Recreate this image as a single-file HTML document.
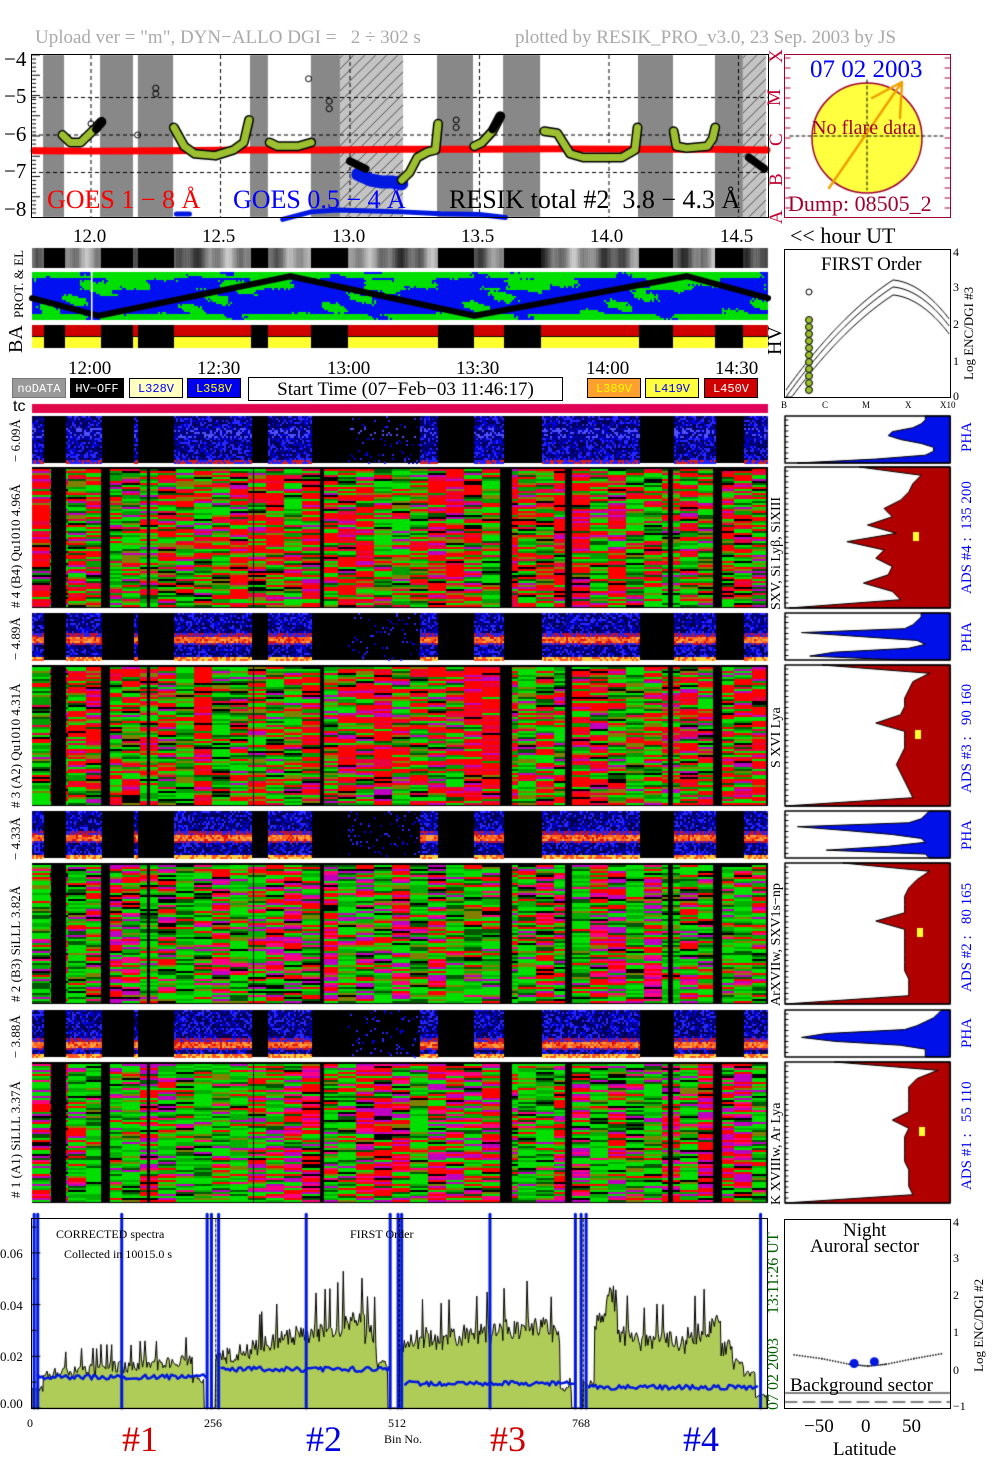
<!DOCTYPE html>
<html><head><meta charset="utf-8">
<style>
html,body{margin:0;padding:0;background:#fff}
#root{position:relative;width:1004px;height:1477px;overflow:hidden;font-family:"Liberation Serif",serif}
canvas{position:absolute;left:0;top:0}
.t{position:absolute;white-space:nowrap;line-height:1}
.rot{position:absolute;white-space:nowrap;line-height:1;transform:rotate(-90deg);transform-origin:0 0}
.box{position:absolute;box-sizing:border-box}
.lg{position:absolute;height:20px;top:378px;font-family:"Liberation Mono",monospace;font-size:12px;line-height:20px;text-align:center;box-sizing:border-box;border:1px solid #000}
</style></head><body>
<div id="root">
<canvas id="cv" width="1004" height="1477"></canvas>

<div class="t" style="left:35px;top:28px;font-size:19px;color:#aaa">Upload ver = "m", DYN−ALLO DGI =&nbsp;&nbsp; 2 ÷ 302 s</div>
<div class="t" style="left:515px;top:28px;font-size:19px;color:#aaa">plotted by RESIK_PRO_v3.0, 23 Sep. 2003 by JS</div>

<div class="box" style="left:31px;top:54px;width:738px;height:164px;border:1.5px solid #000"></div>
<div class="t" style="left:4px;top:49px;font-size:21px">−4</div>
<div class="t" style="left:4px;top:86px;font-size:21px">−5</div>
<div class="t" style="left:4px;top:124px;font-size:21px">−6</div>
<div class="t" style="left:4px;top:161px;font-size:21px">−7</div>
<div class="t" style="left:4px;top:199px;font-size:21px">−8</div>
<div class="t" style="left:47px;top:187px;font-size:26px;color:#f00">GOES 1 − 8 Å</div>
<div class="t" style="left:233px;top:187px;font-size:26px;color:#00f">GOES 0.5 − 4 Å</div>
<div class="t" style="left:449px;top:187px;font-size:26px;color:#000">RESIK total #2&nbsp; 3.8 − 4.3 Å</div>
<div class="rot" style="left:767px;top:63px;font-size:19px;color:#c00030">X</div>
<div class="rot" style="left:765px;top:106px;font-size:19px;color:#c00030">M</div>
<div class="rot" style="left:767px;top:146px;font-size:19px;color:#c00030">C</div>
<div class="rot" style="left:767px;top:186px;font-size:19px;color:#c00030">B</div>
<div class="rot" style="left:767px;top:224px;font-size:19px;color:#c00030">A</div>

<div class="box" style="left:784px;top:54px;width:167px;height:164px;border:1.5px solid #a00030"></div>
<div class="t" style="left:810px;top:57px;font-size:25px;color:#00f">07 02 2003</div>
<div class="t" style="left:812px;top:118px;font-size:20px;color:#a00030">No flare data</div>
<div class="t" style="left:788px;top:193px;font-size:22px;color:#a00030">Dump: 08505_2</div>

<div class="t" style="left:73px;top:227px;font-size:19px">12.0</div>
<div class="t" style="left:202px;top:227px;font-size:19px">12.5</div>
<div class="t" style="left:332px;top:227px;font-size:19px">13.0</div>
<div class="t" style="left:461px;top:227px;font-size:19px">13.5</div>
<div class="t" style="left:590px;top:227px;font-size:19px">14.0</div>
<div class="t" style="left:720px;top:227px;font-size:19px">14.5</div>
<div class="t" style="left:790px;top:225px;font-size:22px">&lt;&lt; hour UT</div>

<div class="rot" style="left:12px;top:318px;font-size:13px">PROT. &amp; EL</div>
<div class="rot" style="left:6px;top:353px;font-size:20px">BA</div>
<div class="rot" style="left:765px;top:355px;font-size:20px">HV</div>

<div class="box" style="left:784px;top:249px;width:167px;height:149px;border:1.5px solid #000"></div>
<div class="t" style="left:821px;top:255px;font-size:19px">FIRST Order</div>
<div class="t" style="left:953px;top:246px;font-size:12px">4</div>
<div class="t" style="left:953px;top:281px;font-size:12px">3</div>
<div class="t" style="left:953px;top:318px;font-size:12px">2</div>
<div class="t" style="left:953px;top:355px;font-size:12px">1</div>
<div class="t" style="left:953px;top:390px;font-size:12px">0</div>
<div class="rot" style="left:962px;top:380px;font-size:13px">Log ENC/DGI #3</div>
<div class="t" style="left:781px;top:401px;font-size:9px">B</div>
<div class="t" style="left:822px;top:401px;font-size:9px">C</div>
<div class="t" style="left:862px;top:401px;font-size:9px">M</div>
<div class="t" style="left:905px;top:401px;font-size:9px">X</div>
<div class="t" style="left:940px;top:401px;font-size:9px">X10</div>

<div class="t" style="left:68px;top:359px;font-size:19px">12:00</div>
<div class="t" style="left:197px;top:359px;font-size:19px">12:30</div>
<div class="t" style="left:327px;top:359px;font-size:19px">13:00</div>
<div class="t" style="left:456px;top:359px;font-size:19px">13:30</div>
<div class="t" style="left:586px;top:359px;font-size:19px">14:00</div>
<div class="t" style="left:715px;top:359px;font-size:19px">14:30</div>

<div class="lg" style="left:12px;width:54px;background:#999;color:#fff;border-color:#777">noDATA</div>
<div class="lg" style="left:70px;width:54px;background:#000;color:#fff">HV−OFF</div>
<div class="lg" style="left:129px;width:54px;background:#ffffc0;color:#00f">L328V</div>
<div class="lg" style="left:187px;width:54px;background:#0000f0;color:#ff0">L358V</div>
<div class="lg" style="left:248px;width:315px;height:24px;top:377px;background:#fff;font-family:'Liberation Serif',serif;font-size:19px;line-height:24px">Start Time (07−Feb−03 11:46:17)</div>
<div class="lg" style="left:587px;width:54px;background:#ffa030;color:#ff0">L389V</div>
<div class="lg" style="left:645px;width:54px;background:#ffff40;color:#00f">L419V</div>
<div class="lg" style="left:704px;width:54px;background:#d00000;color:#fff">L450V</div>
<div class="t" style="left:13px;top:399px;font-size:16px;font-family:'Liberation Sans',sans-serif">tc</div>

<div class="rot" style="left:9px;top:462px;font-size:13px">− 6.09Å</div>
<div class="rot" style="left:9px;top:608px;font-size:13px"># 4 (B4) Qu1010 4.96Å</div>
<div class="rot" style="left:9px;top:660px;font-size:13px">− 4.89Å</div>
<div class="rot" style="left:9px;top:808px;font-size:13px"># 3 (A2) Qu1010 4.31Å</div>
<div class="rot" style="left:9px;top:860px;font-size:13px">− 4.33Å</div>
<div class="rot" style="left:9px;top:1002px;font-size:13px"># 2 (B3) SiLLL 3.82Å</div>
<div class="rot" style="left:9px;top:1058px;font-size:13px">− 3.88Å</div>
<div class="rot" style="left:9px;top:1198px;font-size:13px"># 1 (A1) SiLLL 3.37Å</div>

<div class="rot" style="left:770px;top:610px;font-size:14px">SXV, Si Lyβ, SiXIII</div>
<div class="rot" style="left:770px;top:768px;font-size:14px">S XVI Lya</div>
<div class="rot" style="left:770px;top:1006px;font-size:14px">ArXVIIw, SXV1s−np</div>
<div class="rot" style="left:770px;top:1205px;font-size:14px">K XVIIIw, Ar Lya</div>

<div class="rot" style="left:960px;top:452px;font-size:15px;color:#00f">PHA</div>
<div class="rot" style="left:960px;top:594px;font-size:15px;color:#00f">ADS #4 :&nbsp; 135 200</div>
<div class="rot" style="left:960px;top:652px;font-size:15px;color:#00f">PHA</div>
<div class="rot" style="left:960px;top:793px;font-size:15px;color:#00f">ADS #3 :&nbsp;&nbsp; 90 160</div>
<div class="rot" style="left:960px;top:850px;font-size:15px;color:#00f">PHA</div>
<div class="rot" style="left:960px;top:992px;font-size:15px;color:#00f">ADS #2 :&nbsp;&nbsp; 80 165</div>
<div class="rot" style="left:960px;top:1048px;font-size:15px;color:#00f">PHA</div>
<div class="rot" style="left:960px;top:1190px;font-size:15px;color:#00f">ADS #1 :&nbsp;&nbsp; 55 110</div>

<div class="box" style="left:31px;top:1218px;width:737px;height:191px;border:1.5px solid #000"></div>
<div class="t" style="left:0px;top:1247px;font-size:13px">0.06</div>
<div class="t" style="left:0px;top:1299px;font-size:13px">0.04</div>
<div class="t" style="left:0px;top:1350px;font-size:13px">0.02</div>
<div class="t" style="left:0px;top:1397px;font-size:13px">0.00</div>
<div class="t" style="left:56px;top:1228px;font-size:12px">CORRECTED spectra</div>
<div class="t" style="left:64px;top:1248px;font-size:12px">Collected in 10015.0 s</div>
<div class="t" style="left:350px;top:1228px;font-size:12px">FIRST Order</div>
<div class="t" style="left:27px;top:1417px;font-size:12px">0</div>
<div class="t" style="left:204px;top:1417px;font-size:12px">256</div>
<div class="t" style="left:388px;top:1417px;font-size:12px">512</div>
<div class="t" style="left:384px;top:1433px;font-size:12px">Bin No.</div>
<div class="t" style="left:572px;top:1417px;font-size:12px">768</div>
<div class="t" style="left:122px;top:1421px;font-size:36px;color:#d00000">#1</div>
<div class="t" style="left:306px;top:1421px;font-size:36px;color:#0000e0">#2</div>
<div class="t" style="left:490px;top:1421px;font-size:36px;color:#d00000">#3</div>
<div class="t" style="left:683px;top:1421px;font-size:36px;color:#0000e0">#4</div>
<div class="rot" style="left:766px;top:1410px;font-size:16px;color:#006000">07 02 2003&nbsp;&nbsp;&nbsp;&nbsp;&nbsp; 13:11:26 UT</div>

<div class="box" style="left:784px;top:1219px;width:167px;height:190px;border:1.5px solid #000"></div>
<div class="t" style="left:843px;top:1221px;font-size:19px">Night</div>
<div class="t" style="left:810px;top:1237px;font-size:19px">Auroral sector</div>
<div class="t" style="left:790px;top:1376px;font-size:19px">Background sector</div>
<div class="t" style="left:953px;top:1216px;font-size:12px">4</div>
<div class="t" style="left:953px;top:1252px;font-size:12px">3</div>
<div class="t" style="left:953px;top:1289px;font-size:12px">2</div>
<div class="t" style="left:953px;top:1326px;font-size:12px">1</div>
<div class="t" style="left:953px;top:1364px;font-size:12px">0</div>
<div class="t" style="left:953px;top:1400px;font-size:12px">−1</div>
<div class="rot" style="left:972px;top:1372px;font-size:13px">Log ENC/DGI #2</div>
<div class="t" style="left:804px;top:1417px;font-size:19px">−50</div>
<div class="t" style="left:861px;top:1417px;font-size:19px">0</div>
<div class="t" style="left:902px;top:1417px;font-size:19px">50</div>
<div class="t" style="left:833px;top:1440px;font-size:19px">Latitude</div>
</div>

<script>
// ---------- DATA ----------
const offStart=[11.815,12.035,12.181,12.614,12.849,13.336,13.591,14.112,14.409];
const offEnd  =[11.896,12.162,12.317,12.683,12.992,13.475,13.734,14.247,14.517];
const hatchStart=[12.961,14.517];
const hatchEnd  =[13.205,14.606];
const gapStart=[11.842,12.035,12.216,12.622,12.884,13.579,13.830,14.224,14.398];
const gapEnd  =[11.903,12.073,12.224,12.629,12.896,13.625,13.857,14.247,14.436];
const goesLongH=[11.78,12.0,12.3,12.6,12.9,13.2,13.5,13.8,14.1,14.4,14.61];
const goesLongV=[-6.42,-6.43,-6.42,-6.40,-6.40,-6.38,-6.38,-6.37,-6.38,-6.38,-6.40];
const goesShortH=[12.74,12.85,12.95,13.05,13.2,13.35,13.5,13.6];
const goesShortV=[-8.25,-8.05,-8.0,-8.02,-8.05,-8.1,-8.12,-8.2];
const resikH=[[11.89,11.92,11.96,11.99,12.02,12.04],[12.32,12.36,12.40,12.48,12.55,12.59,12.61],[12.69,12.72,12.80,12.85],[13.20,13.23,13.26,13.30,13.33,13.34],[13.48,13.51,13.55,13.58],[13.75,13.80,13.85,13.90,14.05,14.10,14.11],[14.25,14.26,14.30,14.38,14.40,14.41]];
const resikV=[[-6.0,-6.2,-6.2,-6.0,-5.8,-5.65],[-5.8,-6.3,-6.5,-6.55,-6.4,-6.2,-5.6],[-6.2,-6.3,-6.3,-6.2],[-7.2,-7.0,-6.6,-6.45,-6.4,-5.7],[-6.3,-6.2,-5.9,-5.5],[-5.9,-5.95,-6.5,-6.6,-6.6,-6.4,-5.8],[-5.9,-6.3,-6.35,-6.3,-6.1,-5.8]];
const blackH=[[13.0,13.03,13.06],[14.54,14.57,14.6],[12.02,12.04],[13.55,13.58]];
const blackV=[[-6.7,-6.8,-6.9],[-6.6,-6.75,-6.9],[-5.85,-5.65],[-5.85,-5.5]];
const blueCloudH=[13.03,13.08,13.12,13.16,13.2];
const blueCloudV=[-7.05,-7.2,-7.25,-7.25,-7.3];
const trackH=[11.772,12.03,12.77,13.48,14.3,14.614];
const trackV=[0.55,0.95,0.05,0.95,0.05,0.55];
const phaBand=[0.35,0.55,0.55,0.72];
const hPHA=[[3.4,3.4,3.3,3.1,2.6,2.5,2.8,3.3,3.6,3.6,3.4,2.2,0.3],
            [3.3,3.3,3.2,3.1,2.9,0.4,1.8,3.2,3.4,3.0,1.2,0.6,2.8],
            [3.5,3.4,3.3,3.0,0.3,1.5,2.6,3.3,3.4,2.5,1.0,3.4,3.5],
            [3.8,3.7,3.6,3.4,3.2,2.9,1.0,0.4,1.2,2.8,3.4,3.4,3.4]];
const hADS=[[1.8,3.3,3.1,3.0,2.8,2.4,2.6,2.0,2.7,1.5,2.4,2.2,2.6,2.5,1.9,2.6,2.8,0.1],
            [0.9,3.5,3.1,3.0,2.9,2.9,2.8,2.2,2.9,2.9,2.9,2.8,2.7,2.8,2.9,3.0,3.1,0.0],
            [1.4,3.5,3.2,3.0,2.9,2.9,2.9,2.2,2.9,2.9,2.9,2.9,2.9,2.9,3.0,3.0,3.0,0.0],
            [1.2,3.7,3.2,3.0,3.0,3.0,3.0,2.6,3.0,2.9,2.9,2.9,2.9,3.0,3.0,3.0,3.1,0.0]];
const specV=[0.008,0.014,0.015,0.015,0.016,0.016,0.017,0.017,0.017,0.018,0.018,0.019,0.018,0.019,0.012,0.000,
 0.021,0.022,0.023,0.025,0.026,0.028,0.029,0.030,0.031,0.032,0.034,0.037,0.035,0.030,0.018,0.000,
 0.025,0.028,0.029,0.028,0.029,0.030,0.030,0.031,0.031,0.032,0.033,0.034,0.033,0.030,0.008,0.000,
 0.010,0.035,0.045,0.030,0.028,0.027,0.028,0.029,0.026,0.030,0.032,0.036,0.025,0.018,0.014,0.005];
const specBlue=[0.012,0.015,0.0095,0.008];
const blueSpikes=[3,8,125,244,250,260,382,499,510,515,638,757,765,772,1015];
const blueSpikeTop=[0.075,0.075,0.075,0.075,0.075,0.075,0.075,0.075,0.075,0.075,0.075,0.075,0.075,0.075,0.075];
const latX=[-14,8]; const latV=[0.2,0.25];
const latCurveX=[-80,-50,-20,0,20,50,80]; const latCurveV=[0.45,0.35,0.2,0.15,0.2,0.35,0.48];

// ---------- DRAW ----------
const c=document.getElementById('cv').getContext('2d');
const X=h=>91+(h-12)*259;
const GY=v=>60+(-4-v)*37.5;
const L=32,R=768;
function hsh(i,j){let n=(i*374761393+j*668265263)|0;n=Math.imul(n^(n>>>13),1274126177);n=n^(n>>>16);return (n>>>0)/4294967296;}
function isOff(x){for(let k=0;k<offStart.length;k++)if(x>=X(offStart[k])&&x<X(offEnd[k]))return true;return false;}
function isGap(x){for(let k=0;k<gapStart.length;k++)if(x>=X(gapStart[k])&&x<X(gapEnd[k]))return true;return false;}
c.fillStyle='#fff';c.fillRect(0,0,1004,1477);

for(let k=0;k<offStart.length;k++){c.fillStyle='#888';c.fillRect(X(offStart[k]),55,X(offEnd[k])-X(offStart[k]),162);}
for(let k=0;k<hatchStart.length;k++){const a=X(hatchStart[k]),b=X(hatchEnd[k]);c.fillStyle='#c4c4c4';c.fillRect(a,55,b-a,162);
 c.save();c.beginPath();c.rect(a,55,b-a,162);c.clip();c.strokeStyle='#333';c.lineWidth=0.8;
 for(let s=a-170;s<b;s+=11){c.beginPath();c.moveTo(s,217);c.lineTo(s+162,55);c.stroke();}c.restore();}
c.setLineDash([4,3]);c.strokeStyle='#000';c.lineWidth=1;
[-5,-6,-7].forEach(v=>{c.beginPath();c.moveTo(L,GY(v));c.lineTo(R,GY(v));c.stroke();});
[12,12.5,13,13.5,14,14.5].forEach(h=>{c.beginPath();c.moveTo(X(h),55);c.lineTo(X(h),217);c.stroke();});
c.setLineDash([]);
for(let i=0;i<40;i++){const y=55+i*4.05;c.beginPath();c.moveTo(L,y);c.lineTo(L+(i%5?4:8),y);c.stroke();}
function poly(H,V,col,w){c.strokeStyle=col;c.lineWidth=w;c.lineCap='round';c.lineJoin='round';c.beginPath();H.forEach((h,i)=>{i?c.lineTo(X(h),GY(V[i])):c.moveTo(X(h),GY(V[i]));});c.stroke();}
poly(goesLongH,goesLongV,'#f00',7);
poly(goesShortH,goesShortV,'#0018e0',5);
c.strokeStyle='#0018e0';c.lineWidth=5;c.beginPath();c.moveTo(X(12.33),214);c.lineTo(X(12.38),214);c.stroke();
poly(blueCloudH,blueCloudV,'#0018e0',13);
resikH.forEach((H,i)=>{poly(H,resikV[i],'#000',10);poly(H,resikV[i],'#9cc030',7);});
blackH.forEach((H,i)=>poly(H,blackV[i],'#000',8));
c.strokeStyle='#000';c.lineWidth=1;
[[12.25,-4.9],[12.25,-4.75],[12.84,-4.5],[12.92,-5.1],[12.92,-5.3],[13.41,-5.6],[13.41,-5.8],[12.0,-5.7],[12.18,-6.0]].forEach(p=>{c.beginPath();c.arc(X(p[0]),GY(p[1]),3,0,7);c.stroke();});

c.fillStyle='#ffff40';c.strokeStyle='#a00030';c.lineWidth=1.5;c.beginPath();c.arc(867,138,55,0,7);c.fill();c.stroke();
c.setLineDash([3,3]);c.strokeStyle='#000';c.lineWidth=1;c.beginPath();c.moveTo(867,80);c.lineTo(867,190);c.moveTo(790,136);c.lineTo(945,136);c.stroke();c.setLineDash([]);
c.strokeStyle='#f0a000';c.lineWidth=2.5;c.beginPath();c.moveTo(829,188);c.lineTo(902,82);c.moveTo(872,98);c.lineTo(902,82);c.lineTo(900,118);c.stroke();
c.strokeStyle='#a00030';c.lineWidth=1;for(let i=0;i<16;i++){const y=58+i*10;c.beginPath();c.moveTo(785,y);c.lineTo(790,y);c.moveTo(950,y);c.lineTo(945,y);c.stroke();}

for(let x=L;x<R;x++){let g;if(isOff(x))g=0;else{g=Math.round(120+50*Math.sin(x*0.09)+30*Math.sin(x*0.31)+20*(hsh(x,3)-0.5));}c.fillStyle=`rgb(${g},${g},${g})`;c.fillRect(x,248,1,20);}
c.fillStyle='#0010f0';c.fillRect(L,272,R-L,48);
for(let x=L;x<R;x+=2)for(let y=272;y<320;y+=2){const r=(y-272)/48;const n=0.5*Math.sin(x*0.045+y*0.12)+0.3*Math.sin(x*0.13-y*0.3)+0.3*(hsh(x,y)-0.5);
 const edge=(r<0.1||r>0.87)?0.9:(r<0.35?0.25:-0.2);if(n+edge>0.3){c.fillStyle='#00e000';c.fillRect(x,y,2,2);}}
c.strokeStyle='#000';c.lineWidth=6;c.beginPath();trackH.forEach((h,i)=>{const x=X(h),y=274+trackV[i]*44;i?c.lineTo(x,y):c.moveTo(x,y);});c.stroke();
c.fillStyle='#fff';c.fillRect(X(12.0),272,1.5,48);
for(let x=L;x<R;x++){if(isOff(x)){c.fillStyle='#000';c.fillRect(x,325,1,23);}else{c.fillStyle='#d00000';c.fillRect(x,325,1,11);c.fillStyle='#ffff30';c.fillRect(x,337,1,11);}}
c.fillStyle='#000';c.fillRect(L,336,R-L,1);
const tg=c.createLinearGradient(L,0,R,0);tg.addColorStop(0,'#e0084a');tg.addColorStop(1,'#e0005a');c.fillStyle=tg;c.fillRect(L,404,R-L,9);

// PHA panels
const phaY=[416,613,811,1010];
phaY.forEach((y0,p)=>{c.fillStyle='#000';c.fillRect(L,y0,R-L,47);
 for(let x=L;x<R;x+=2){if(isOff(x))continue;const dim=(x>X(12.992)&&x<X(13.27))?0.12:1;
  if(dim>0.5){c.fillStyle='#000050';c.fillRect(x,y0,2,47);}
  for(let y=y0;y<y0+47;y+=2){const r=(y-y0)/47;const u=hsh(x*7+p,y);let col=null;
   const d=Math.abs(r-phaBand[p]);
   if(p>0&&d<0.08&&dim>0.5){col=u<0.5?'#ff6020':(u<0.8?'#ffa040':'#e01010');}
   else if(p>0&&d<0.13&&dim>0.5){col=u<0.5?'#c01030':'#3020e0';}
   else if(r>0.93&&dim>0.5){col=p>0?(u<0.5?'#ffd040':'#ff5020'):(u<0.5?'#d02020':'#2020ff');}
   else if(u<0.6*dim*(p==0&&d<0.12?1.5:1)){col=u<0.25*dim?'#2828ff':(u<0.45*dim?'#0000d8':'#000090');if(p==0&&d<0.1&&u<0.35)col='#5050ff';}
   if(col){c.fillStyle=col;c.fillRect(x,y,2,2);}}}
});

// ADS panels
const adsY=[467,665,863,1062];
const palA=[['#ff0000',30],['#e80040',10],['#00e000',22],['#00a000',10],['#005800',6],['#c000c0',7],['#808000',9],['#000',6]];
const palB=[['#00e000',30],['#00b000',15],['#005800',10],['#c000c0',10],['#ff0080',6],['#ff0000',16],['#000',6],['#808000',7]];
adsY.forEach((y0,p)=>{const pal=p<2?palA:palB;c.fillStyle='#000';c.fillRect(L,y0,R-L,141);
 let col=0;for(let xs=L;xs<R;xs+=18){col++;const b=hsh(col,p+11);
  for(let y=y0+2;y<y0+139;y+=2){let tot=0;const w=pal.map(e=>{let ww=e[1];if(e[0]=='#ff0000'||e[0]=='#e80040'||e[0]=='#ff0080'||e[0]=='#c000c0')ww*=0.3+1.4*b;else if(e[0]!='#000')ww*=1.7-1.4*b;tot+=ww;return ww;});
   let u=hsh(col*1000+y,p)*tot,k=0;while(k<w.length-1&&u>w[k]){u-=w[k];k++;}
   for(let x=xs;x<Math.min(xs+18,R-2);x++){if(isGap(x))continue;c.fillStyle=pal[k][0];c.fillRect(x,y,1,2);}}}
 c.fillStyle='#000';c.fillRect(R-2,y0,2,141);
});

// right histograms (polygon through row values)
function hist(y0,h,vals,col){c.fillStyle='#fff';c.fillRect(785,y0,165,h);const n=vals.length,rh=h/(n-1);
 c.fillStyle=col;c.beginPath();c.moveTo(950,y0);vals.forEach((v,i)=>{c.lineTo(785+v*41.25,y0+i*rh);});c.lineTo(950,y0+h);c.closePath();c.fill();
 c.strokeStyle='#000';c.lineWidth=1;c.stroke();
 c.lineWidth=1.5;c.strokeRect(785,y0,165,h);c.lineWidth=1;for(let t=y0+4;t<y0+h;t+=5.5){c.beginPath();c.moveTo(785,t);c.lineTo(788,t);c.stroke();}}
phaY.forEach((y,i)=>hist(y,47,hPHA[i],'#0010e8'));
adsY.forEach((y,i)=>{hist(y,141,hADS[i],'#b00000');c.fillStyle='#ffff30';c.fillRect(913+i*2,y+65,6,9);});

// FIRST order panel
c.strokeStyle='#000';c.lineWidth=1;
[0,7,15].forEach(o=>{c.beginPath();for(let x=786;x<=949;x++){const t=x-893;let y;if(t<0){const s=-t/107;y=280+o+s*s*40+s*70;}else{const s=t/57;y=280+o+s*s*35+s*5;}c.lineTo(x,Math.min(397,y));}c.stroke();});
c.beginPath();c.arc(809,292,3,0,7);c.stroke();
c.fillStyle='#9cc030';for(let y=320;y<396;y+=7){c.beginPath();c.arc(809,y,3.5,0,7);c.fill();c.stroke();}

// spectrum
const SX=b=>32+b*0.7178, SY=v=>1408-v*2585;
c.fillStyle='#b0cc58';c.beginPath();c.moveTo(SX(0),SY(0));
specV.forEach((v,i)=>{const a=SX(i*16),b2=SX(i*16+16);for(let x=a;x<b2;x+=1.2){const u=hsh(Math.round(x*3),5);c.lineTo(x,SY(v*(0.8+0.3*u+(u>0.93?0.35:0))));}});
c.lineTo(SX(1024),SY(0));c.closePath();c.fill();c.strokeStyle='#000';c.lineWidth=1;c.stroke();
c.strokeStyle='#0018e0';c.lineWidth=2.5;specBlue.forEach((v,s)=>{c.beginPath();for(let b=s*256+8;b<s*256+244;b+=3){const x=SX(b);c.lineTo(x,SY(v)+(hsh(b,9)-0.5)*5);}c.stroke();});
c.lineWidth=3;blueSpikes.forEach((b,i)=>{c.beginPath();c.moveTo(SX(b),SY(blueSpikeTop[i]));c.lineTo(SX(b),1408);c.stroke();});
c.lineWidth=1;c.setLineDash([3,2]);c.strokeStyle='#000';[256,512,768].forEach(b=>{c.beginPath();c.moveTo(SX(b),1219);c.lineTo(SX(b),1408);c.stroke();});c.setLineDash([]);
for(let v=0;v<=0.07;v+=0.01){c.beginPath();c.moveTo(32,SY(v));c.lineTo(v*100%2<0.5?40:36,SY(v));c.stroke();}

// latitude plot
const LX=l=>867+l*0.92, LY=v=>1371-v*37.5;
c.fillStyle='#000';latCurveX.forEach((l,i)=>{if(i<latCurveX.length-1){for(let t=0;t<1;t+=0.1){const x=LX(l+(latCurveX[i+1]-l)*t),y=LY(latCurveV[i]+(latCurveV[i+1]-latCurveV[i])*t);c.fillRect(x,y,1.5,1.5);}}});
c.fillStyle='#0018e0';latX.forEach((l,i)=>{c.beginPath();c.arc(LX(l),LY(latV[i]),4.5,0,7);c.fill();});
c.strokeStyle='#000';c.setLineDash([12,6]);c.beginPath();c.moveTo(785,1402);c.lineTo(950,1402);c.stroke();c.setLineDash([]);
c.beginPath();c.moveTo(785,1393);c.lineTo(950,1393);c.stroke();
</script>
</body></html>
